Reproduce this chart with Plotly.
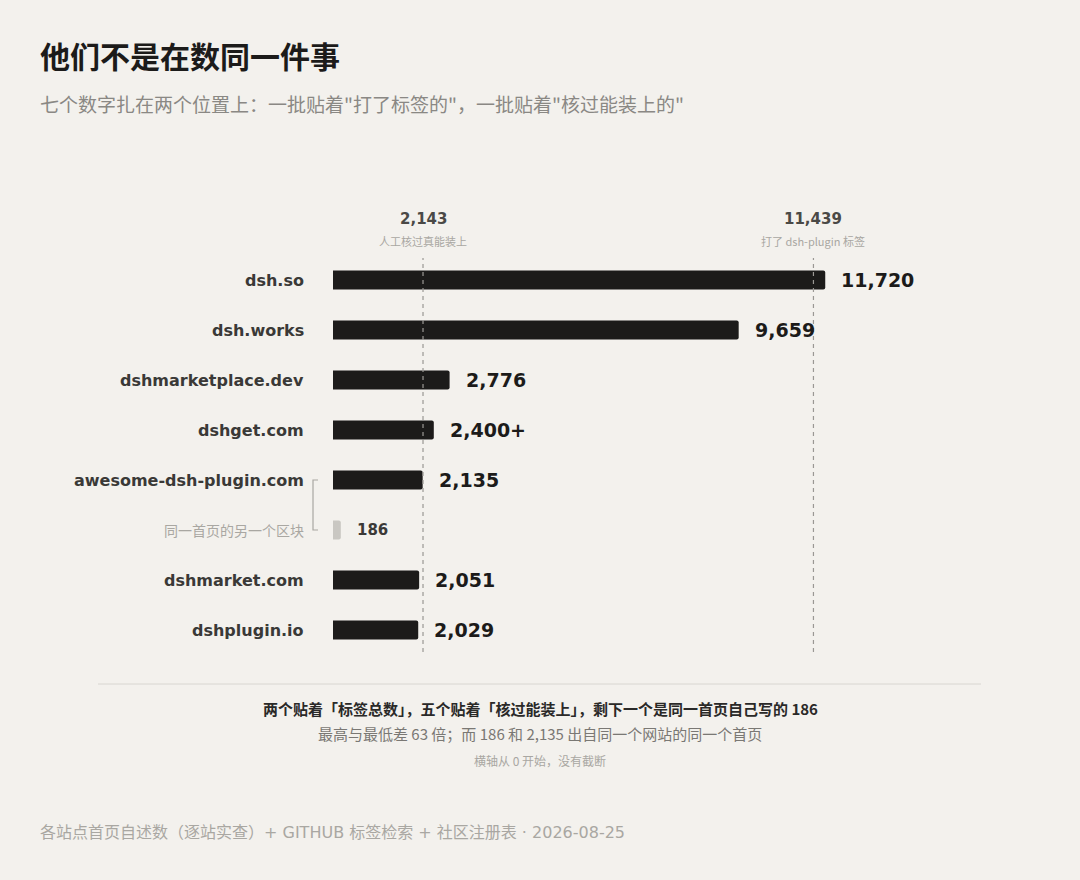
import plotly.graph_objects as go

sites = ["dsh.so", "dsh.works", "dshmarketplace.dev", "dshget.com",
         "awesome-dsh-plugin.com", "同一首页的另一个区块", "dshmarket.com", "dshplugin.io"]
counts = [11720, 9659, 2776, 2400, 2135, 186, 2051, 2029]
count_labels = ["11,720", "9,659", "2,776", "2,400+", "2,135", "186", "2,051", "2,029"]
ref_values = [2143, 11439]
ref_numbers = ["2,143", "11,439"]
ref_notes = ["人工核过真能装上", "打了 dsh-plugin 标签"]

FONT = "Noto Sans CJK SC"
LATIN = "DejaVu Sans, Noto Sans CJK SC"
BG = "#f3f1ed"
DARK = "#1c1b1a"

W, H = 1080, 880
PLOT_TOP, PLOT_BOT = 255, 655


def py(pix):
    # page pixel -> paper y
    return (PLOT_BOT - pix) / (PLOT_BOT - PLOT_TOP)


def px(pix):
    return (pix - 333) / (921 - 333)


colors = ["#c9c7c2" if s.startswith("同一") else DARK for s in sites]

fig = go.Figure(go.Bar(
    x=counts, y=list(range(len(sites))), orientation="h",
    marker=dict(color=colors, line=dict(width=0)),
    width=0.38, hoverinfo="skip",
))

ann = []
for i, (s, v, lab) in enumerate(zip(sites, counts, count_labels)):
    minor = s.startswith("同一")
    ann.append(dict(x=0, y=i, xref="x", yref="y", text=s, showarrow=False,
                    xanchor="right", yanchor="middle", xshift=-27,
                    font=dict(family=FONT if minor else LATIN, size=14 if minor else 16,
                              weight=400 if minor else 700,
                              color="#a9a7a2" if minor else "#3a3937")))
    ann.append(dict(x=v, y=i, xref="x", yref="y", text=lab, showarrow=False,
                    xanchor="left", yanchor="middle", xshift=14,
                    font=dict(family=LATIN, size=15 if minor else 19, weight=700,
                              color="#3a3937" if minor else DARK)))

shapes = []
for v, num, note in zip(ref_values, ref_numbers, ref_notes):
    shapes.append(dict(type="line", xref="x", yref="paper", x0=v, x1=v,
                       y0=py(652), y1=py(258),
                       line=dict(color="#9a9894", width=1.2, dash="4px,4px")))
    ann.append(dict(x=v, y=py(219), xref="x", yref="paper", text=num, yanchor="middle",
                    showarrow=False, font=dict(family=LATIN, size=15, weight=700, color="#4a4946")))
    ann.append(dict(x=v, y=py(241), xref="x", yref="paper", text=note, yanchor="middle",
                    showarrow=False, font=dict(family=FONT, size=11, color="#a9a7a2")))

# bracket linking the two blocks of the same homepage
shapes.append(dict(type="path", xref="paper", yref="y",
                   path=f"M {px(318)},4 L {px(313)},4 L {px(313)},5 L {px(318)},5",
                   line=dict(color="#a9a7a2", width=1.2)))

shapes.append(dict(type="line", xref="paper", yref="paper",
                   x0=px(98), x1=px(981), y0=py(684), y1=py(684),
                   line=dict(color="#d8d6d1", width=1)))


def text(t, x, y, size, color, anchor="center", weight=400, family=FONT):
    return dict(text=t, x=px(x), y=py(y), xref="paper", yref="paper", xanchor=anchor,
                yanchor="middle", showarrow=False,
                font=dict(family=family, size=size, color=color, weight=weight))


ann += [
    text("他们不是在数同一件事", 38, 55, 30, DARK, "left", 700),
    text('七个数字扎在两个位置上：一批贴着"打了标签的"，一批贴着"核过能装上的"',
         38, 103, 19, "#8a8884", "left"),
    text("两个贴着「标签总数」，五个贴着「核过能装上」，剩下一个是同一首页自己写的 186",
         540, 708, 15, "#2a2928", weight=700),
    text("最高与最低差 63 倍；而 186 和 2,135 出自同一个网站的同一个首页", 540, 733, 15, "#7a7874"),
    text("横轴从 0 开始，没有截断", 540, 760, 12, "#a9a7a2"),
    text("各站点首页自述数（逐站实查）+ GITHUB 标签检索 + 社区注册表 · 2026-08-25",
         38, 832, 16, "#a9a7a2", "left", family=LATIN),
]

fig.update_layout(
    width=W, height=H,
    margin=dict(l=333, r=W - 921, t=PLOT_TOP, b=H - PLOT_BOT, pad=0),
    paper_bgcolor=BG, plot_bgcolor=BG,
    xaxis=dict(range=[0, 14000], visible=False, fixedrange=True),
    yaxis=dict(range=[7.5, -0.5], visible=False, fixedrange=True),
    barcornerradius=2,
    showlegend=False,
    annotations=ann, shapes=shapes,
)

fig.write_html("out.html", config=dict(displayModeBar=False),
               post_script="document.body.style.margin='0';document.body.style.background='#f3f1ed';")
